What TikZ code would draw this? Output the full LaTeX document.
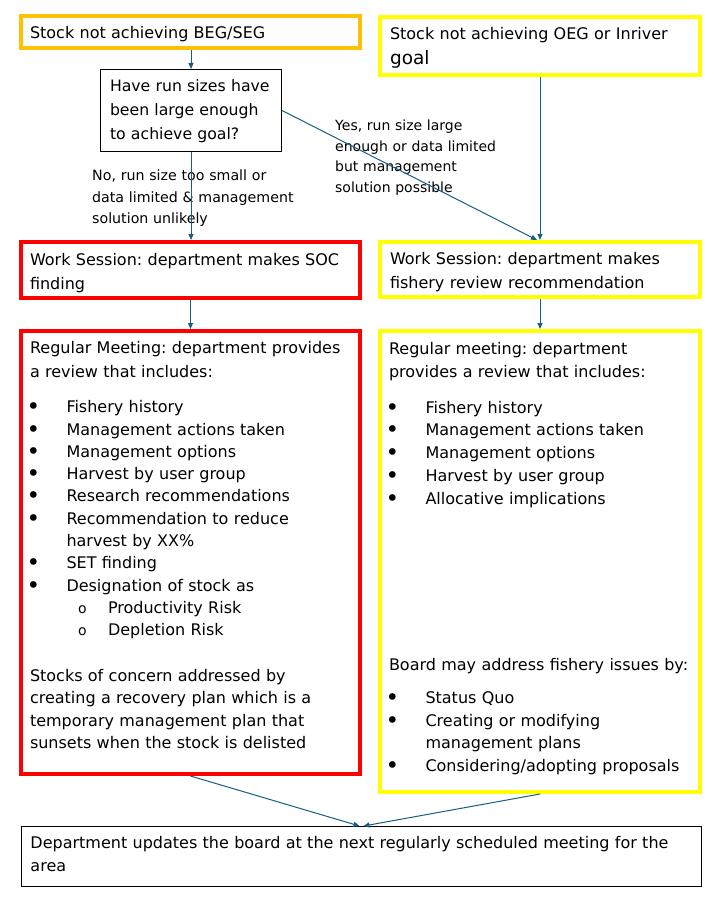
\documentclass[tikz,border=0pt]{standalone}
\usepackage{fontspec}
\setmainfont{DejaVu Sans}
\usepackage{tikz}
\usetikzlibrary{arrows.meta}
\frenchspacing

\definecolor{socred}{HTML}{FF0000}
\definecolor{goalorange}{HTML}{FFC000}
\definecolor{goalyellow}{HTML}{FFFF00}
\definecolor{linkblue}{HTML}{156082}

% list marks used inside the review boxes
\newcommand{\bul}{\makebox[36.5pt][l]{\hspace{-3.5pt}\raisebox{-2pt}{\fontsize{23}{23}\selectfont •}}}
\newcommand{\subbul}{\hspace*{48pt}\makebox[30pt][l]{\fontsize{14}{14}\selectfont o}}
\newcommand{\hang}{\hspace*{36.5pt}}

\begin{document}
\begin{tikzpicture}[x=1pt,y=-1pt,->,>={Triangle[length=6pt,width=5pt]},
    box/.style={rectangle, draw, anchor=north west, inner sep=0pt, align=left,
      font=\fontsize{16}{24}\selectfont},
    orangebox/.style={box, draw=goalorange, line width=4pt},
    yellowbox/.style={box, draw=goalyellow, line width=4pt},
    redbox/.style={box, draw=socred, line width=4pt},
    plainbox/.style={box, draw=black, line width=1pt},
    label/.style={anchor=north west, inner sep=0pt, align=left, text width=260pt,
      text height=12pt, text depth=0pt},
    link/.style={draw=linkblue, line width=1pt}]

    \path[use as bounding box, fill=white] (0,0) rectangle (720,907);

    % top row
    \node[orangebox, inner xsep=9pt, text width=321pt, text height=22.3pt,
      text depth=9.7pt] (notbeg) at (19,14) {Stock not achieving BEG/SEG};
    \node[yellowbox, inner xsep=10pt, text width=300pt, text height=22.3pt,
      text depth=35.7pt] (notoeg) at (378,15)
    {Stock not achieving OEG or Inriver\\[1.7pt]{\fontsize{18.5}{24}\selectfont goal}};

    \node[plainbox, inner xsep=9.5pt, text width=162pt, text height=22.2pt,
      text depth=59.8pt, font=\fontsize{15.7}{24}\selectfont] (runsize) at (100,69)
    {Have run sizes have\\been large enough\\to achieve goal?};

    % answers
    \node[label, font=\fontsize{14.2}{21.3}\selectfont] (nolabel) at (92,168.7)
    {No, run size too small or\\data limited \& management\\solution unlikely};
    \node[label, font=\fontsize{14}{20.8}\selectfont] (yeslabel) at (335,118)
    {Yes, run size large\\enough or data limited\\but management\\solution possible};

    % work sessions
    \node[redbox, inner xsep=9pt, text width=321pt, text height=23pt,
      text depth=33pt] (worksoc) at (19,240)
    {Work Session: department makes SOC\\finding};
    \node[yellowbox, inner xsep=10pt, text width=300pt, text height=22pt,
      text depth=33pt] (workfr) at (378,240)
    {Work Session: department makes\\fishery review recommendation};

    % regular meetings
    \node[redbox, inner xsep=9pt, text width=321pt, text height=22.3pt,
      text depth=420.7pt, font=\fontsize{16}{22.3}\selectfont] (meetsoc) at (19,329)
    {Regular Meeting: department provides\\[2.1pt]
      a review that includes:\\[12.7pt]
      \bul Fishery history\\
      \bul Management actions taken\\
      \bul Management options\\
      \bul Harvest by user group\\
      \bul Research recommendations\\
      \bul Recommendation to reduce\\
      \hang harvest by XX\%\\
      \bul SET finding\\
      \bul Designation of stock as\\
      \subbul Productivity Risk\\
      \subbul Depletion Risk\\[23.4pt]
      Stocks of concern addressed by\\
      creating a recovery plan which is a\\
      temporary management plan that\\
      sunsets when the stock is delisted};

    \node[yellowbox, inner xsep=9pt, text width=302pt, text height=23pt,
      text depth=438pt, font=\fontsize{16}{22.75}\selectfont] (meetfr) at (378,329)
    {Regular meeting: department\\[0.95pt]
      provides a review that includes:\\[12.55pt]
      \bul Fishery history\\
      \bul Management actions taken\\
      \bul Management options\\
      \bul Harvest by user group\\
      \bul Allocative implications\\[143.95pt]
      Board may address fishery issues by:\\[9.85pt]
      \bul Status Quo\\
      \bul Creating or modifying\\
      \hang management plans\\
      \bul Considering/adopting proposals};

    % bottom
    \node[plainbox, inner xsep=9pt, text width=662pt, text height=21.8pt,
      text depth=38.2pt, font=\fontsize{16}{23.4}\selectfont] (update) at (21,826)
    {Department updates the board at the next regularly scheduled meeting for the\\area};

    % connectors
    \draw[link] (runsize.north |- notbeg.south) -- (runsize.north);
    \draw[link] (runsize.south) -- (runsize.south |- worksoc.north);
    \draw[link] (runsize.east) -- ([xshift=-3pt]workfr.north);
    \draw[link] (notoeg.south) -- (workfr.north);
    \draw[link] (worksoc.south) -- (meetsoc.north);
    \draw[link] (workfr.south) -- (meetfr.north);
    \draw[link] (meetsoc.south) -- ([xshift=-2pt]update.north);
    \draw[link] (meetfr.south) -- ([xshift=2pt]update.north);

\end{tikzpicture}
\end{document}
